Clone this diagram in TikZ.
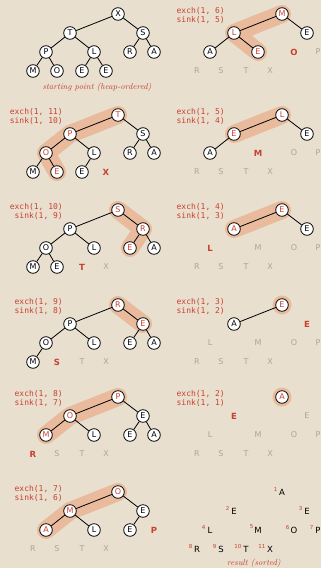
\documentclass[tikz,border=0pt]{standalone}
\usepackage{fontspec}
\newfontfamily\nodefont{DejaVu Sans}
\newfontfamily\opfont{DejaVu Sans Mono}
\definecolor{bgc}{HTML}{E8DFCF}
\definecolor{hlc}{HTML}{E9BB9C}
\definecolor{redc}{HTML}{C9402F}
\definecolor{grayc}{HTML}{ADA59B}
\tikzset{
 tnode/.style={circle, draw=black, line width=0.8pt, fill=white, minimum size=12.6pt, inner sep=0pt, font=\nodefont\fontsize{8}{8}\selectfont},
 hnode/.style={tnode, text=redc},
 outred/.style={inner sep=0pt, text=redc, font=\nodefont\bfseries\fontsize{8.5}{9}\selectfont},
 outgray/.style={inner sep=0pt, text=grayc, font=\nodefont\fontsize{8}{9}\selectfont},
 edge/.style={line width=0.8pt},
 band/.style={line width=18pt, draw=hlc, line cap=round, line join=round},
 oplabel/.style={anchor=east, align=right, text=redc, inner sep=0pt, font=\opfont\fontsize{8}{9}\selectfont},
 captn/.style={text=redc, font=\itshape\fontsize{8.5}{10}\selectfont, inner sep=0pt},
 reslet/.style={inner sep=0pt, font=\nodefont\fontsize{8.5}{9}\selectfont},
 resnum/.style={anchor=east, inner sep=0pt, text=redc, font=\nodefont\fontsize{5.5}{6}\selectfont},
}
\newcommand\mkpanel[3]{%
 \coordinate (#1-1) at ({#2+118},{#3+14});
 \coordinate (#1-2) at ({#2+70},{#3+33});
 \coordinate (#1-3) at ({#2+143},{#3+33});
 \coordinate (#1-4) at ({#2+46},{#3+52});
 \coordinate (#1-5) at ({#2+94},{#3+52});
 \coordinate (#1-6) at ({#2+130},{#3+52});
 \coordinate (#1-7) at ({#2+154},{#3+52});
 \coordinate (#1-8) at ({#2+33},{#3+71});
 \coordinate (#1-9) at ({#2+57},{#3+71});
 \coordinate (#1-10) at ({#2+82},{#3+71});
 \coordinate (#1-11) at ({#2+106},{#3+71});
}
\begin{document}
\begin{tikzpicture}[x=1pt,y=-1pt]
\useasboundingbox (0,0) rectangle (321,568);
\fill[bgc] (0,0) rectangle (321,568);
\mkpanel{L1}{0}{0}
\mkpanel{L2}{0}{101}
\mkpanel{L3}{0}{196}
\mkpanel{L4}{0}{291}
\mkpanel{L5}{0}{383}
\mkpanel{L6}{0}{478}
\mkpanel{R1}{164}{0}
\mkpanel{R2}{164}{101}
\mkpanel{R3}{164}{196}
\mkpanel{R4}{164}{291}
\mkpanel{R5}{164}{383}
\mkpanel{R6}{164}{478}

% highlight bands
\draw[band] (L2-1) -- (L2-2) -- (L2-4) -- (L2-9);
\draw[band] (L3-1) -- (L3-3) -- (L3-6);
\draw[band] (L4-1) -- (L4-3);
\draw[band] (L5-1) -- (L5-2) -- (L5-4);
\draw[band] (L6-1) -- (L6-2) -- (L6-4);
\draw[band] (R1-1) -- (R1-2) -- (R1-5);
\draw[band] (R2-1) -- (R2-2);
\draw[band] (R3-1) -- (R3-2);
\fill[hlc] (R4-1) circle (9.5);
\fill[hlc] (R5-1) circle (9.5);

% ---- panel L1
\node[tnode] (a1) at (L1-1) {X};
\node[tnode] (a2) at (L1-2) {T};
\node[tnode] (a3) at (L1-3) {S};
\node[tnode] (a4) at (L1-4) {P};
\node[tnode] (a5) at (L1-5) {L};
\node[tnode] (a6) at (L1-6) {R};
\node[tnode] (a7) at (L1-7) {A};
\node[tnode] (a8) at (L1-8) {M};
\node[tnode] (a9) at (L1-9) {O};
\node[tnode] (a10) at (L1-10) {E};
\node[tnode] (a11) at (L1-11) {E};
\draw[edge] (a1)--(a2) (a1)--(a3) (a2)--(a4) (a2)--(a5) (a3)--(a6) (a3)--(a7) (a4)--(a8) (a4)--(a9) (a5)--(a10) (a5)--(a11);
\node[captn] (cap1) at (97,87) {starting point (heap-ordered)};

% ---- panel L2
\node[oplabel] (op2) at (63,{101+16}) {exch(1, 11)\\sink(1, 10)};
\node[hnode] (b1) at (L2-1) {T};
\node[hnode] (b2) at (L2-2) {P};
\node[tnode] (b3) at (L2-3) {S};
\node[hnode] (b4) at (L2-4) {O};
\node[tnode] (b5) at (L2-5) {L};
\node[tnode] (b6) at (L2-6) {R};
\node[tnode] (b7) at (L2-7) {A};
\node[tnode] (b8) at (L2-8) {M};
\node[hnode] (b9) at (L2-9) {E};
\node[tnode] (b10) at (L2-10) {E};
\node[outred] (b11) at (L2-11) {X};
\draw[edge] (b1)--(b2) (b1)--(b3) (b2)--(b4) (b2)--(b5) (b3)--(b6) (b3)--(b7) (b4)--(b8) (b4)--(b9) (b5)--(b10);

% ---- panel L3
\node[oplabel] (op3) at (63,{196+16}) {exch(1, 10)\\sink(1, 9)};
\node[hnode] (c1) at (L3-1) {S};
\node[tnode] (c2) at (L3-2) {P};
\node[hnode] (c3) at (L3-3) {R};
\node[tnode] (c4) at (L3-4) {O};
\node[tnode] (c5) at (L3-5) {L};
\node[hnode] (c6) at (L3-6) {E};
\node[tnode] (c7) at (L3-7) {A};
\node[tnode] (c8) at (L3-8) {M};
\node[tnode] (c9) at (L3-9) {E};
\node[outred] (c10) at (L3-10) {T};
\node[outgray] (c11) at (L3-11) {X};
\draw[edge] (c1)--(c2) (c1)--(c3) (c2)--(c4) (c2)--(c5) (c3)--(c6) (c3)--(c7) (c4)--(c8) (c4)--(c9);

% ---- panel L4
\node[oplabel] (op4) at (63,{291+16}) {exch(1, 9)\\sink(1, 8)};
\node[hnode] (d1) at (L4-1) {R};
\node[tnode] (d2) at (L4-2) {P};
\node[hnode] (d3) at (L4-3) {E};
\node[tnode] (d4) at (L4-4) {O};
\node[tnode] (d5) at (L4-5) {L};
\node[tnode] (d6) at (L4-6) {E};
\node[tnode] (d7) at (L4-7) {A};
\node[tnode] (d8) at (L4-8) {M};
\node[outred] (d9) at (L4-9) {S};
\node[outgray] (d10) at (L4-10) {T};
\node[outgray] (d11) at (L4-11) {X};
\draw[edge] (d1)--(d2) (d1)--(d3) (d2)--(d4) (d2)--(d5) (d3)--(d6) (d3)--(d7) (d4)--(d8);

% ---- panel L5
\node[oplabel] (op5) at (63,{383+16}) {exch(1, 8)\\sink(1, 7)};
\node[hnode] (e1) at (L5-1) {P};
\node[hnode] (e2) at (L5-2) {O};
\node[tnode] (e3) at (L5-3) {E};
\node[hnode] (e4) at (L5-4) {M};
\node[tnode] (e5) at (L5-5) {L};
\node[tnode] (e6) at (L5-6) {E};
\node[tnode] (e7) at (L5-7) {A};
\node[outred] (e8) at (L5-8) {R};
\node[outgray] (e9) at (L5-9) {S};
\node[outgray] (e10) at (L5-10) {T};
\node[outgray] (e11) at (L5-11) {X};
\draw[edge] (e1)--(e2) (e1)--(e3) (e2)--(e4) (e2)--(e5) (e3)--(e6) (e3)--(e7);

% ---- panel L6
\node[oplabel] (op6) at (63,{478+16}) {exch(1, 7)\\sink(1, 6)};
\node[hnode] (f1) at (L6-1) {O};
\node[hnode] (f2) at (L6-2) {M};
\node[tnode] (f3) at (L6-3) {E};
\node[hnode] (f4) at (L6-4) {A};
\node[tnode] (f5) at (L6-5) {L};
\node[tnode] (f6) at (L6-6) {E};
\node[outred] (f7) at (L6-7) {P};
\node[outgray] (f8) at (L6-8) {R};
\node[outgray] (f9) at (L6-9) {S};
\node[outgray] (f10) at (L6-10) {T};
\node[outgray] (f11) at (L6-11) {X};
\draw[edge] (f1)--(f2) (f1)--(f3) (f2)--(f4) (f2)--(f5) (f3)--(f6);

% ---- panel R1
\node[oplabel] (op7) at (225,{0+16}) {exch(1, 6)\\sink(1, 5)};
\node[hnode] (g1) at (R1-1) {M};
\node[hnode] (g2) at (R1-2) {L};
\node[tnode] (g3) at (R1-3) {E};
\node[tnode] (g4) at (R1-4) {A};
\node[hnode] (g5) at (R1-5) {E};
\node[outred] (g6) at (R1-6) {O};
\node[outgray] (g7) at (R1-7) {P};
\node[outgray] (g8) at (R1-8) {R};
\node[outgray] (g9) at (R1-9) {S};
\node[outgray] (g10) at (R1-10) {T};
\node[outgray] (g11) at (R1-11) {X};
\draw[edge] (g1)--(g2) (g1)--(g3) (g2)--(g4) (g2)--(g5);

% ---- panel R2
\node[oplabel] (op8) at (225,{101+16}) {exch(1, 5)\\sink(1, 4)};
\node[hnode] (h1) at (R2-1) {L};
\node[hnode] (h2) at (R2-2) {E};
\node[tnode] (h3) at (R2-3) {E};
\node[tnode] (h4) at (R2-4) {A};
\node[outred] (h5) at (R2-5) {M};
\node[outgray] (h6) at (R2-6) {O};
\node[outgray] (h7) at (R2-7) {P};
\node[outgray] (h8) at (R2-8) {R};
\node[outgray] (h9) at (R2-9) {S};
\node[outgray] (h10) at (R2-10) {T};
\node[outgray] (h11) at (R2-11) {X};
\draw[edge] (h1)--(h2) (h1)--(h3) (h2)--(h4);

% ---- panel R3
\node[oplabel] (op9) at (225,{196+16}) {exch(1, 4)\\sink(1, 3)};
\node[hnode] (i1) at (R3-1) {E};
\node[hnode] (i2) at (R3-2) {A};
\node[tnode] (i3) at (R3-3) {E};
\node[outred] (i4) at (R3-4) {L};
\node[outgray] (i5) at (R3-5) {M};
\node[outgray] (i6) at (R3-6) {O};
\node[outgray] (i7) at (R3-7) {P};
\node[outgray] (i8) at (R3-8) {R};
\node[outgray] (i9) at (R3-9) {S};
\node[outgray] (i10) at (R3-10) {T};
\node[outgray] (i11) at (R3-11) {X};
\draw[edge] (i1)--(i2) (i1)--(i3);

% ---- panel R4
\node[oplabel] (op10) at (225,{291+16}) {exch(1, 3)\\sink(1, 2)};
\node[hnode] (j1) at (R4-1) {E};
\node[tnode] (j2) at (R4-2) {A};
\node[outred] (j3) at (R4-3) {E};
\node[outgray] (j4) at (R4-4) {L};
\node[outgray] (j5) at (R4-5) {M};
\node[outgray] (j6) at (R4-6) {O};
\node[outgray] (j7) at (R4-7) {P};
\node[outgray] (j8) at (R4-8) {R};
\node[outgray] (j9) at (R4-9) {S};
\node[outgray] (j10) at (R4-10) {T};
\node[outgray] (j11) at (R4-11) {X};
\draw[edge] (j1)--(j2);

% ---- panel R5
\node[oplabel] (op11) at (225,{383+16}) {exch(1, 2)\\sink(1, 1)};
\node[hnode] (k1) at (R5-1) {A};
\node[outred] (k2) at (R5-2) {E};
\node[outgray] (k3) at (R5-3) {E};
\node[outgray] (k4) at (R5-4) {L};
\node[outgray] (k5) at (R5-5) {M};
\node[outgray] (k6) at (R5-6) {O};
\node[outgray] (k7) at (R5-7) {P};
\node[outgray] (k8) at (R5-8) {R};
\node[outgray] (k9) at (R5-9) {S};
\node[outgray] (k10) at (R5-10) {T};
\node[outgray] (k11) at (R5-11) {X};

% ---- panel R6 (result)
\foreach \i/\l in {1/A,2/E,3/E,4/L,5/M,6/O,7/P,8/R,9/S,10/T,11/X}{
  \node[reslet] (m\i) at (R6-\i) {\l};
  \node[resnum] (mn\i) at ([xshift=-4.5pt,yshift=3pt]R6-\i) {\i};
}
\node[captn] (cap2) at (254,563) {result (sorted)};
\end{tikzpicture}
\end{document}
